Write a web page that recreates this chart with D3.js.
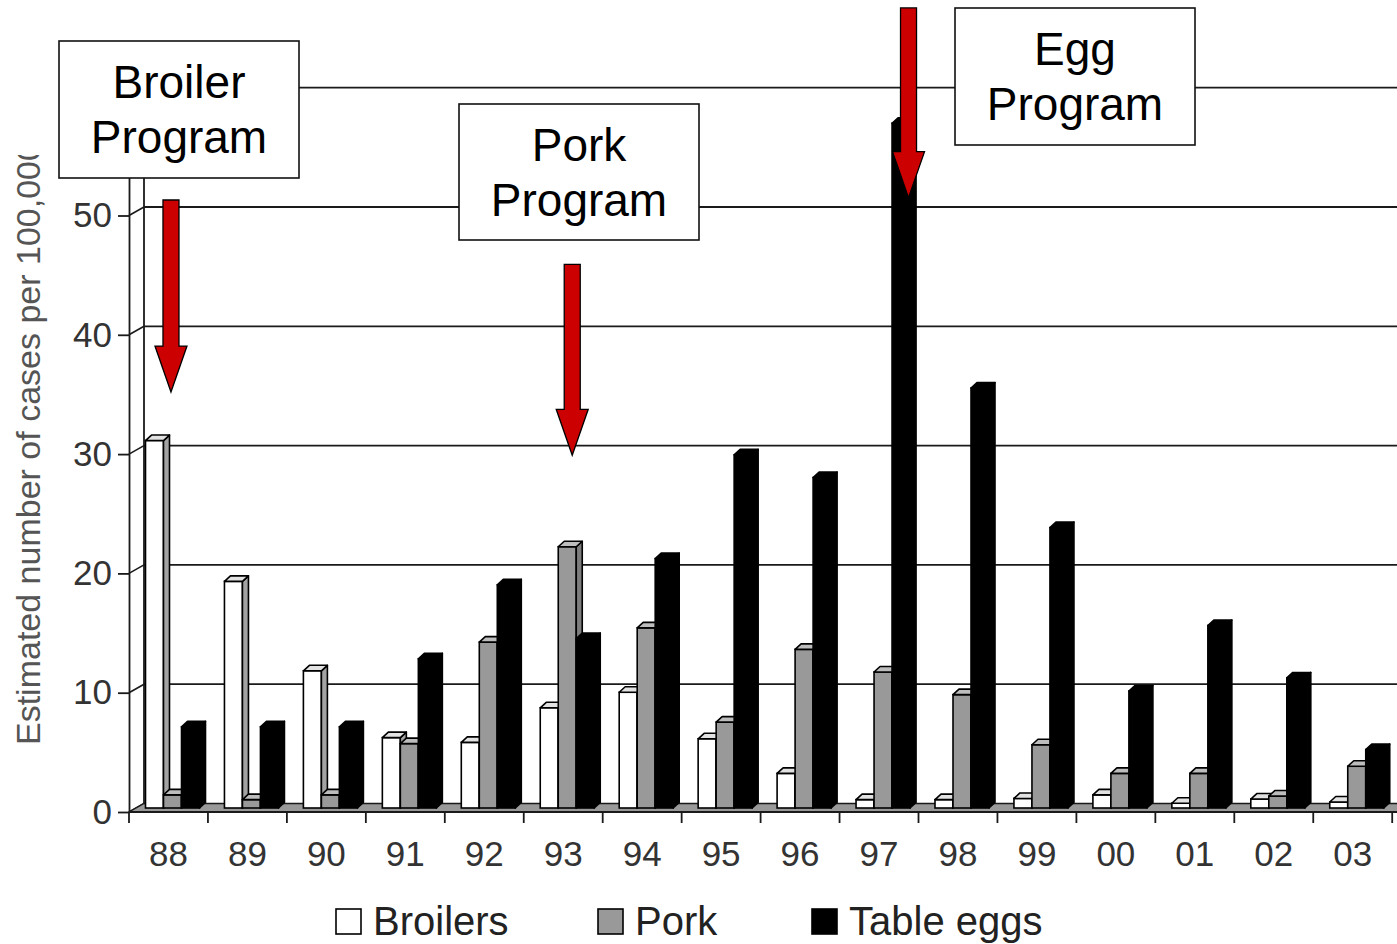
<!DOCTYPE html>
<html>
<head>
<meta charset="utf-8">
<script src="https://cdn.jsdelivr.net/npm/d3@7"></script>
<style>
  html, body { margin: 0; padding: 0; background: #fff; }
  svg { display: block; }
  text { font-family: "Liberation Sans", Arial, sans-serif; }
</style>
</head>
<body>
<script>
// ---------------- data ----------------
const categories = ["88","89","90","91","92","93","94","95","96","97","98","99","00","01","02","03"];
const broilers   = [30.8, 19.0, 11.5, 5.9, 5.5, 8.4, 9.7, 5.8, 2.9, 0.7, 0.7, 0.8, 1.1, 0.4, 0.75, 0.5];
const pork       = [1.1, 0.7, 1.1, 5.4, 13.9, 21.9, 15.1, 7.2, 13.3, 11.4, 9.5, 5.3, 2.9, 2.9, 1.0, 3.5];
const tableEggs  = [6.8, 6.8, 6.8, 12.5, 18.7, 14.2, 20.9, 29.6, 27.7, 57.4, 35.2, 23.5, 9.8, 15.3, 10.9, 4.9];
const seriesNames = ["Broilers", "Pork", "Table eggs"];
const yTickValues = [0, 10, 20, 30, 40, 50];
const gridValues  = [10, 20, 30, 40, 50, 60];
const yLabel = "Estimated number of cases per 100,000";

// annotations: program boxes and arrows
const programBoxes = [
  { lines: ["Broiler", "Program"], x: 59,  y: 41,  w: 240, h: 137 },
  { lines: ["Pork", "Program"],    x: 459, y: 104, w: 240, h: 136 },
  { lines: ["Egg", "Program"],     x: 955, y: 8,   w: 240, h: 137 }
];
const programArrows = [
  { cat: "88", offset: 2.5,  tail: 51.3, tip: 35.2 },
  { cat: "93", offset: 9,    tail: 45.9, tip: 29.9 },
  { cat: "97", offset: 29.5, tail: 67.4, tip: 51.5 }
];

// ---------------- layout ----------------
const W = 1397, H = 944;
const svg = d3.select("body").append("svg").attr("width", W).attr("height", H);

const x0 = 129, catW = 78.95;
const x = d3.scaleBand().domain(categories).range([x0, x0 + catW * categories.length]).padding(0);
const y = d3.scaleLinear().domain([0, 60]).range([812, 812 - 60 * 11.93]);

const wallDX = 15, wallDY = -8.5;       // back wall offset
const barDX = 6, barDY = -5.5;          // bar depth
const barBase = 808, barLift = 4;       // bar sits slightly behind front edge
const barW = 18, barStart = 16.5;

const lineCol = "#1a1a1a";

// back-wall gridlines
svg.append("g").selectAll("line").data(gridValues).join("line")
  .attr("x1", x0 + wallDX).attr("x2", W + 10)
  .attr("y1", d => y(d) + wallDY).attr("y2", d => y(d) + wallDY)
  .attr("stroke", lineCol).attr("stroke-width", 1.8);

// left wall: back edge and diagonal connectors
svg.append("line")
  .attr("x1", x0 + wallDX).attr("x2", x0 + wallDX)
  .attr("y1", y(0) + wallDY).attr("y2", y(60) + wallDY)
  .attr("stroke", lineCol).attr("stroke-width", 1.8);
svg.append("g").selectAll("line").data([0, ...gridValues]).join("line")
  .attr("x1", x0).attr("x2", x0 + wallDX)
  .attr("y1", d => y(d)).attr("y2", d => y(d) + wallDY)
  .attr("stroke", lineCol).attr("stroke-width", 1.6);

// floor
svg.append("polygon")
  .attr("points", [[x0, y(0)], [x0 + wallDX, y(0) + wallDY], [W + 40, y(0) + wallDY], [W + 25, y(0)]].map(p => p.join(",")).join(" "))
  .attr("fill", "#999").attr("stroke", lineCol).attr("stroke-width", 1.4);

// bars
const styles = [
  { front: "#ffffff", top: "#e2e2e2", side: "#a3a3a3" },
  { front: "#999999", top: "#bdbdbd", side: "#7d7d7d" },
  { front: "#000000", top: "#000000", side: "#000000" }
];
const seriesValues = [broilers, pork, tableEggs];
const barData = [];
categories.forEach((c, i) => {
  seriesValues.forEach((vals, s) => {
    barData.push({ cat: c, s, v: vals[i] });
  });
});
const bars = svg.append("g").selectAll("g").data(barData).join("g");
bars.each(function(d) {
  const g = d3.select(this);
  const bx = x(d.cat) + barStart + d.s * barW;
  const top = y(d.v) - barLift;
  const st = styles[d.s];
  g.append("rect")
    .attr("x", bx).attr("y", top).attr("width", barW).attr("height", barBase - top)
    .attr("fill", st.front).attr("stroke", "#000").attr("stroke-width", 1.6);
  g.append("polygon")
    .attr("points", [[bx + barW, barBase], [bx + barW, top], [bx + barW + barDX, top + barDY], [bx + barW + barDX, barBase + barDY]].map(p => p.join(",")).join(" "))
    .attr("fill", st.side).attr("stroke", "#000").attr("stroke-width", 1.6).attr("stroke-linejoin", "round");
  g.append("polygon")
    .attr("points", [[bx, top], [bx + barDX, top + barDY], [bx + barW + barDX, top + barDY], [bx + barW, top]].map(p => p.join(",")).join(" "))
    .attr("fill", st.top).attr("stroke", "#000").attr("stroke-width", 1.6).attr("stroke-linejoin", "round");
});

// y axis (front)
const yAxis = svg.append("g").attr("transform", `translate(${x0},0)`)
  .call(d3.axisLeft(y).tickValues(yTickValues).tickSize(11).tickSizeOuter(0).tickPadding(6));
yAxis.select(".domain").attr("stroke", lineCol).attr("stroke-width", 1.8);
yAxis.selectAll(".tick line").attr("stroke", lineCol).attr("stroke-width", 1.8);
yAxis.selectAll(".tick text").attr("font-size", 35).attr("fill", "#333")
  .attr("font-family", "'Liberation Sans', Arial, sans-serif");

// x axis
svg.append("line").attr("x1", x0).attr("x2", W + 20).attr("y1", y(0)).attr("y2", y(0))
  .attr("stroke", lineCol).attr("stroke-width", 1.8);
const boundaries = categories.map(c => x(c)).concat([x(categories[categories.length - 1]) + x.bandwidth()]);
svg.append("g").selectAll("line").data(boundaries).join("line")
  .attr("x1", d => d).attr("x2", d => d).attr("y1", y(0)).attr("y2", y(0) + 11)
  .attr("stroke", lineCol).attr("stroke-width", 1.8);
const xAxis = svg.append("g").attr("transform", `translate(0,${y(0)})`)
  .call(d3.axisBottom(x).tickSize(0).tickPadding(29));
xAxis.select(".domain").remove();
xAxis.selectAll(".tick text").attr("font-size", 35).attr("fill", "#333")
  .attr("font-family", "'Liberation Sans', Arial, sans-serif");

// y label (clipped at top as in original)
svg.append("clipPath").attr("id", "ylabClip")
  .append("rect").attr("x", 0).attr("y", 155).attr("width", 60).attr("height", 800);
svg.append("g").attr("clip-path", "url(#ylabClip)")
  .append("text")
  .attr("transform", "translate(40,745) rotate(-90)")
  .attr("font-size", 34).attr("fill", "#555")
  .text(yLabel);

// program boxes
const boxG = svg.append("g").selectAll("g").data(programBoxes).join("g");
boxG.append("rect")
  .attr("x", d => d.x).attr("y", d => d.y).attr("width", d => d.w).attr("height", d => d.h)
  .attr("fill", "#fff").attr("stroke", "#111").attr("stroke-width", 1.6);
boxG.each(function(d) {
  d3.select(this).selectAll("text").data(d.lines).join("text")
    .attr("x", d.x + d.w / 2)
    .attr("y", (t, i) => d.y + 57 + i * 55)
    .attr("text-anchor", "middle")
    .attr("font-size", 46).attr("fill", "#000")
    .text(t => t);
});

// arrows
const shaftHalf = 8, headHalf = 16, headLen = 46;
svg.append("g").selectAll("polygon").data(programArrows).join("polygon")
  .attr("points", d => {
    const cx = x(d.cat) + x.bandwidth() / 2 + d.offset;
    const yTail = y(d.tail), yTip = y(d.tip), yH = yTip - headLen;
    return [[cx - shaftHalf, yTail], [cx + shaftHalf, yTail], [cx + shaftHalf, yH], [cx + headHalf, yH],
            [cx, yTip], [cx - headHalf, yH], [cx - shaftHalf, yH]].map(p => p.join(",")).join(" ");
  })
  .attr("fill", "#cc0000").attr("stroke", "#000").attr("stroke-width", 1.3);

// legend
const legendX = [336, 598, 812];
const legend = svg.append("g").selectAll("g").data(seriesNames).join("g")
  .attr("transform", (d, i) => `translate(${legendX[i]},909)`);
legend.append("rect").attr("width", 25).attr("height", 25)
  .attr("fill", (d, i) => styles[i].front).attr("stroke", "#000").attr("stroke-width", 1.6);
legend.append("text").attr("x", 37).attr("y", 26)
  .attr("font-size", 40).attr("fill", "#222")
  .text(d => d);
</script>
</body>
</html>
